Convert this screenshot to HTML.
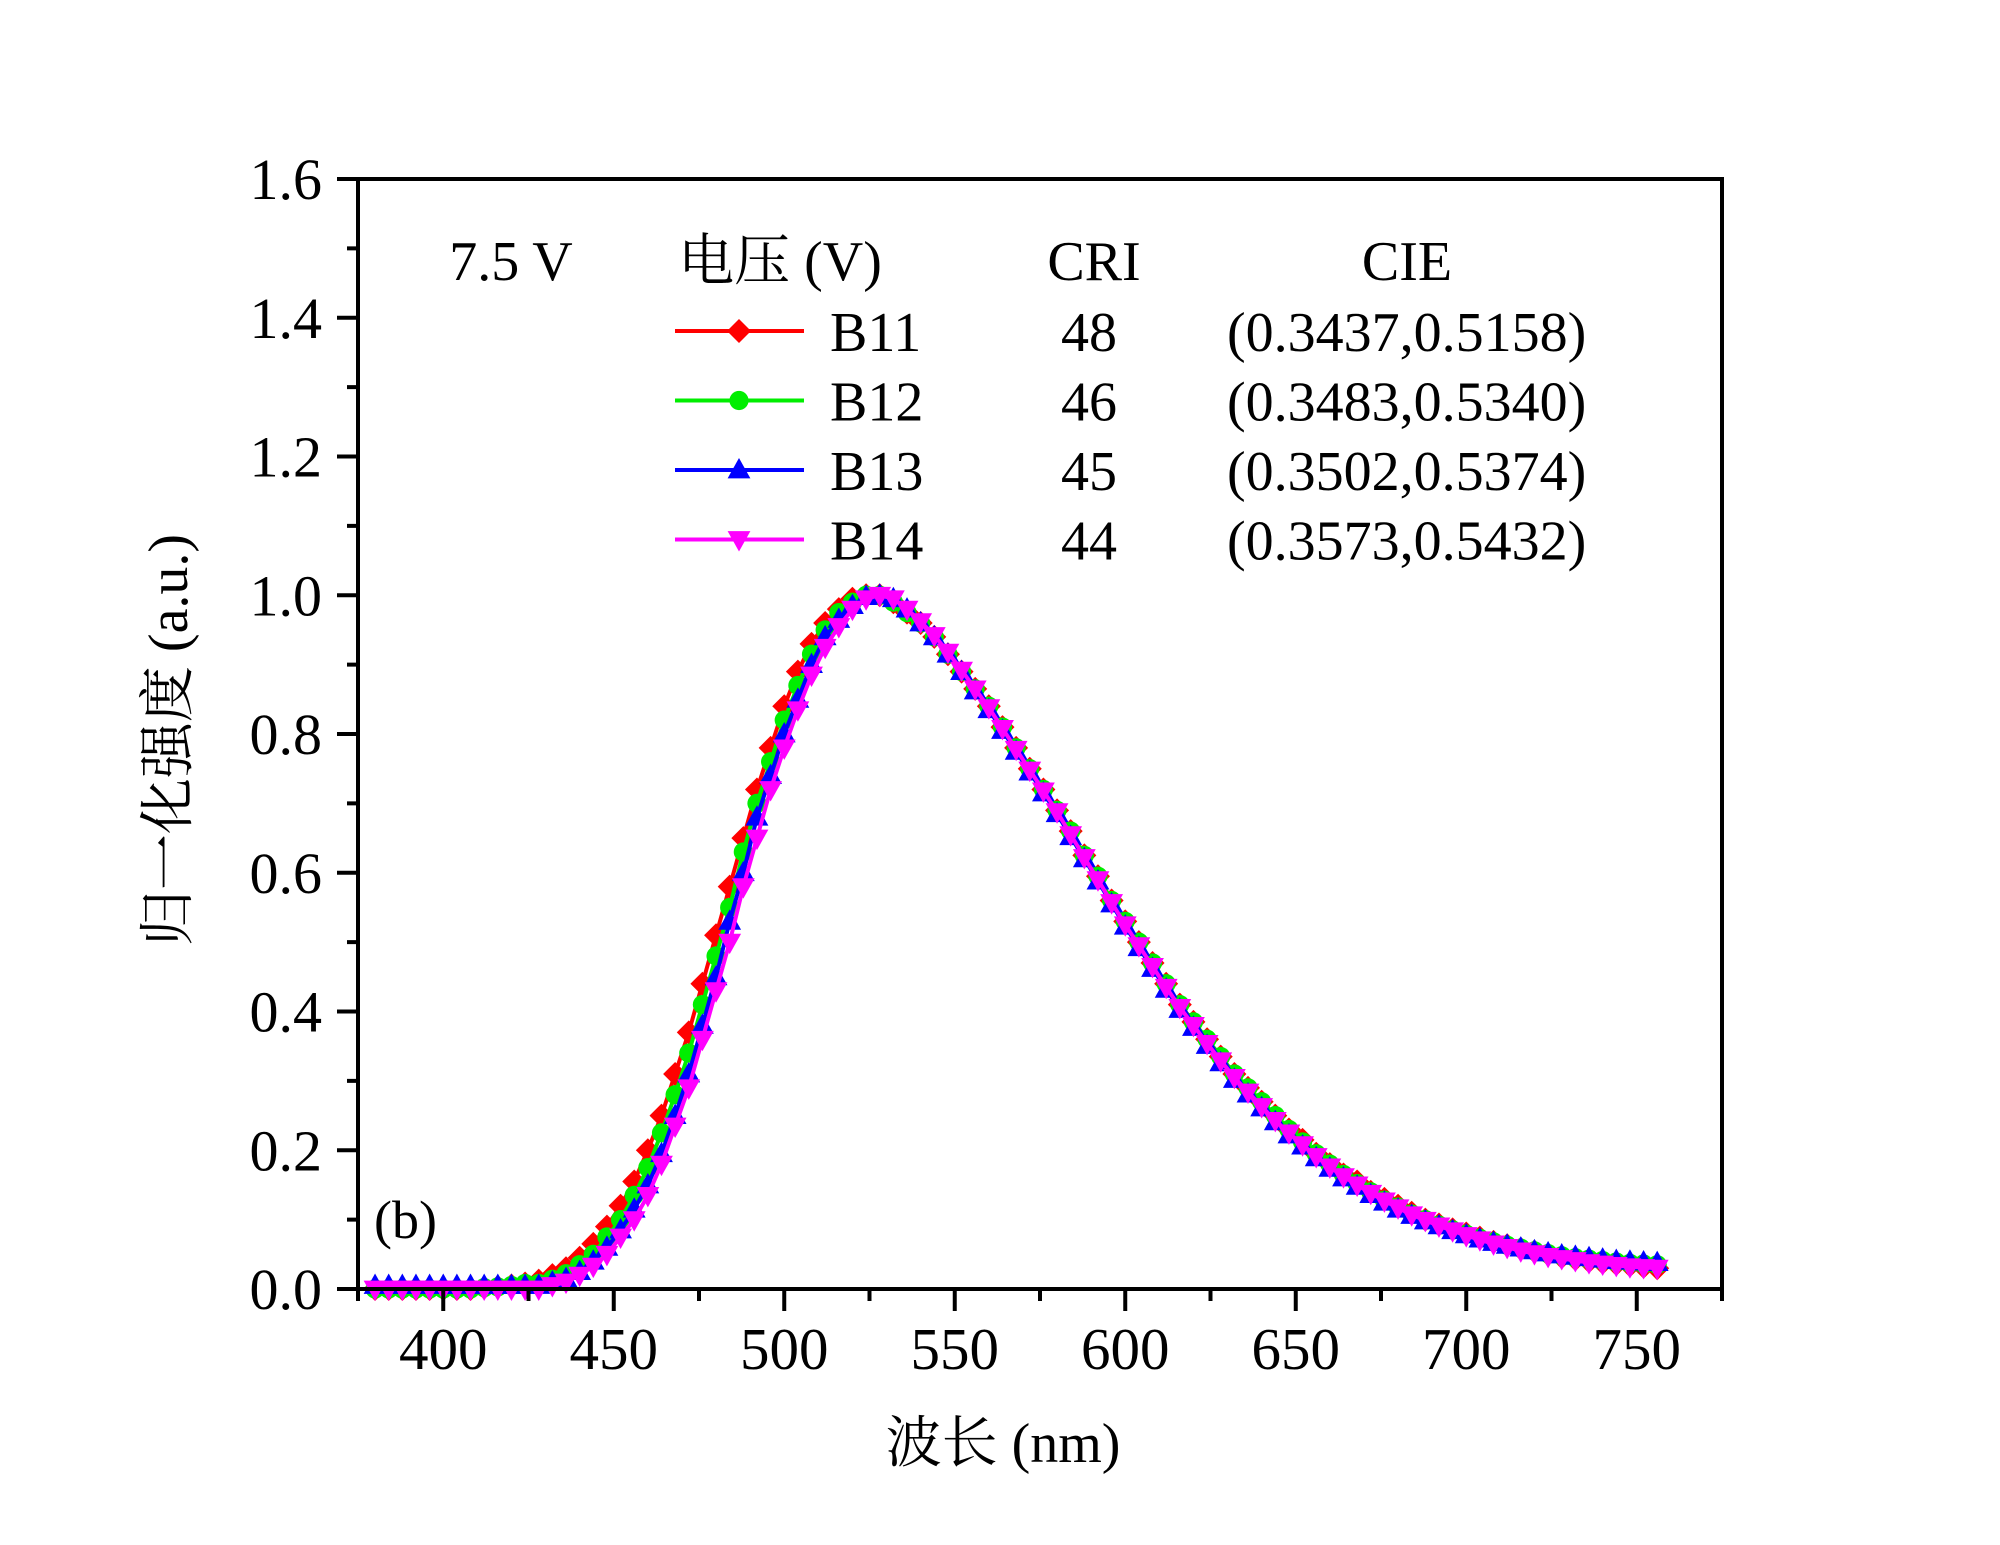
<!DOCTYPE html>
<html><head><meta charset="utf-8"><style>
html,body{margin:0;padding:0;background:#fff;}
svg{display:block;}
text{font-family:"Liberation Serif","Noto Serif CJK SC",serif;fill:#000;}
</style></head><body>
<svg id="chart" width="2000" height="1545" viewBox="0 0 2000 1545" xmlns="http://www.w3.org/2000/svg"></svg>
<script>
const xTicks = [400,450,500,550,600,650,700,750];
const yTicks = [0.0,0.2,0.4,0.6,0.8,1.0,1.2,1.4,1.6];
const yTickLabels = ["0.0","0.2","0.4","0.6","0.8","1.0","1.2","1.4","1.6"];
const wlStart = 380, wlStep = 4;
const lowFlat = [0,0,0,0,0,0,0,0,0.002,0.003,0.005,0.008];
const lowFlat13 = [0.005,0.005,0.005,0.005,0.005,0.005,0.005,0.005,0.005,0.005,0.005,0.005];
const lowFlat14 = [0,0,0,0,0,0,0,0,0,0,0,0];
const rise11 = [0.012,0.02,0.03,0.045,0.065,0.09,0.12,0.155,0.20,0.25,0.31,0.37,0.44,0.51,0.58,0.65,0.72,0.78,0.84,0.89,0.93,0.96,0.98,0.995,1.0,1.0];
const rise12 = [0.008,0.014,0.022,0.035,0.05,0.075,0.10,0.135,0.175,0.225,0.28,0.34,0.41,0.48,0.55,0.63,0.70,0.76,0.82,0.87,0.915,0.95,0.975,0.99,1.0,1.0];
const rise13 = [0.005,0.01,0.015,0.025,0.04,0.06,0.085,0.115,0.15,0.195,0.25,0.31,0.38,0.45,0.53,0.60,0.68,0.74,0.80,0.85,0.90,0.94,0.965,0.985,0.998,1.0];
const rise14 = [0,0.005,0.01,0.02,0.033,0.05,0.075,0.10,0.135,0.18,0.235,0.29,0.36,0.43,0.50,0.58,0.65,0.72,0.78,0.835,0.885,0.925,0.955,0.98,0.995,1.0];
const tail11 = [0.99,0.975,0.96,0.94,0.915,0.89,0.865,0.84,0.81,0.78,0.75,0.72,0.69,0.66,0.625,0.595,0.56,0.53,0.50,0.47,0.44,0.41,0.385,0.36,0.335,0.31,0.29,0.27,0.25,0.23,0.215,0.195,0.18,0.165,0.155,0.14,0.13,0.12,0.11,0.10,0.093,0.086,0.08,0.074,0.068,0.063,0.058,0.054,0.05,0.046,0.043,0.04,0.038,0.036,0.034,0.032,0.03];
const tail12 = [0.99,0.975,0.96,0.94,0.915,0.89,0.865,0.84,0.81,0.78,0.75,0.72,0.69,0.66,0.625,0.595,0.56,0.53,0.50,0.47,0.44,0.41,0.385,0.36,0.335,0.31,0.29,0.27,0.25,0.23,0.212,0.195,0.18,0.165,0.152,0.14,0.128,0.118,0.108,0.10,0.092,0.085,0.079,0.073,0.068,0.063,0.059,0.055,0.051,0.048,0.045,0.043,0.041,0.039,0.037,0.036,0.035];
const tail13 = [0.995,0.98,0.96,0.94,0.915,0.89,0.862,0.835,0.805,0.775,0.745,0.715,0.685,0.652,0.62,0.588,0.555,0.523,0.492,0.462,0.432,0.403,0.377,0.351,0.326,0.302,0.281,0.261,0.241,0.222,0.206,0.189,0.174,0.16,0.148,0.136,0.125,0.115,0.106,0.098,0.091,0.084,0.078,0.072,0.067,0.063,0.059,0.055,0.052,0.049,0.047,0.045,0.043,0.041,0.04,0.039,0.038];
const tail14 = [0.995,0.98,0.962,0.942,0.918,0.892,0.865,0.838,0.808,0.778,0.748,0.718,0.688,0.655,0.622,0.59,0.557,0.525,0.495,0.465,0.435,0.406,0.38,0.354,0.329,0.305,0.284,0.263,0.243,0.225,0.208,0.191,0.176,0.162,0.15,0.138,0.127,0.117,0.107,0.099,0.091,0.084,0.077,0.071,0.065,0.06,0.055,0.051,0.047,0.044,0.041,0.038,0.036,0.034,0.032,0.031,0.03];
const seriesNames = ["B11","B12","B13","B14"];
const seriesColors = ["#ff0000","#00ee00","#0000ff","#ff00ff"];
const seriesMarkers = ["diamond","circle","up","down"];
const criValues = ["48","46","45","44"];
const cieValues = ["(0.3437,0.5158)","(0.3483,0.5340)","(0.3502,0.5374)","(0.3573,0.5432)"];
const seriesData = [
  lowFlat.concat(rise11, tail11),
  lowFlat.concat(rise12, tail12),
  lowFlat13.concat(rise13, tail13),
  lowFlat14.concat(rise14, tail14)
];

const NS = "http://www.w3.org/2000/svg";
const svg = document.getElementById('chart');
const L = 358, R = 1722, T = 179, B = 1289;
const xMin = 375, xMax = 775, yMin = 0, yMax = 1.6;
const xs = v => L + (v - xMin) / (xMax - xMin) * (R - L);
const ys = v => B - (v - yMin) / (yMax - yMin) * (B - T);
function el(tag, attrs, parent) {
  const e = document.createElementNS(NS, tag);
  for (const k in attrs) e.setAttribute(k, attrs[k]);
  (parent || svg).appendChild(e);
  return e;
}
function marker(type, x, y, color, parent, s) {
  let m;
  if (type === 'diamond') m = el('polygon', {points: `${x},${y-s} ${x+s},${y} ${x},${y+s} ${x-s},${y}`, fill: color}, parent);
  else if (type === 'circle') m = el('circle', {cx: x, cy: y, r: s*0.8, fill: color}, parent);
  else if (type === 'up') m = el('polygon', {points: `${x},${y-s} ${x+s*0.95},${y+s*0.7} ${x-s*0.95},${y+s*0.7}`, fill: color}, parent);
  else m = el('polygon', {points: `${x},${y+s} ${x+s*0.95},${y-s*0.7} ${x-s*0.95},${y-s*0.7}`, fill: color}, parent);
  return m;
}

seriesData.forEach((vals, si) => {
  const g = el('g', {});
  
  
  const pts = vals.map((v, i) => `${xs(wlStart + i*wlStep)},${ys(v)}`).join(' ');
  const line = el('polyline', {points: pts, fill: 'none', stroke: seriesColors[si], 'stroke-width': 4}, g);
  
  
  vals.forEach((v, i) => {
    const m = marker(seriesMarkers[si], xs(wlStart + i*wlStep), ys(v), seriesColors[si], g, 12);
    
    
  });
});

const frame = el('rect', {x: L, y: T, width: R-L, height: B-T, fill: 'none', stroke: '#000', 'stroke-width': 4});



for (let v = 375; v <= 775; v += 25) {
  const major = (v % 50 === 0);
  const t = el('line', {x1: xs(v), x2: xs(v), y1: B, y2: B + (major ? 22 : 12), stroke: '#000', 'stroke-width': 4});
  
  
}
xTicks.forEach(v => {
  const t = el('text', {x: xs(v), y: 1369, 'font-size': 59, 'text-anchor': 'middle'});
  t.textContent = String(v);
  
  
});
for (let k = 0; k <= 16; k++) {
  const v = k * 0.1;
  const major = (k % 2 === 0);
  const t = el('line', {x1: L - (major ? 21 : 11), x2: L, y1: ys(v), y2: ys(v), stroke: '#000', 'stroke-width': 4});
  
  
}
yTicks.forEach((v, i) => {
  const t = el('text', {x: 322, y: ys(v) + 20, 'font-size': 58, 'text-anchor': 'end'});
  t.textContent = yTickLabels[i];
  
  
});

const xt = el('text', {x: 1003, y: 1462, 'font-size': 56, 'text-anchor': 'middle'});
xt.textContent = '波长 (nm)';


const yt = el('text', {x: 0, y: 0, 'font-size': 56, 'text-anchor': 'middle', transform: 'translate(187,740) rotate(-90)'});
yt.textContent = '归一化强度 (a.u.)';



const pl = el('text', {x: 374, y: 1238, 'font-size': 54});
pl.textContent = '(b)';



const lg = el('g', {});


const headers = [['7.5 V', 511], ['电压 (V)', 780], ['CRI', 1094], ['CIE', 1407]];
headers.forEach(h => {
  const t = el('text', {x: h[1], y: 280, 'font-size': 56, 'text-anchor': 'middle'}, lg);
  t.textContent = h[0];
  
  
});
seriesNames.forEach((n, i) => {
  const yy = 331 + i * 69.5;
  const e = el('g', {}, lg);
  
  
  el('line', {x1: 675, x2: 804, y1: yy, y2: yy, stroke: seriesColors[i], 'stroke-width': 4}, e);
  marker(seriesMarkers[i], 739, yy, seriesColors[i], e, 12);
  const t1 = el('text', {x: 830, y: yy + 20, 'font-size': 56}, e);
  t1.textContent = n;
  const t2 = el('text', {x: 1089, y: yy + 20, 'font-size': 56, 'text-anchor': 'middle'}, e);
  t2.textContent = criValues[i];
  const t3 = el('text', {x: 1227, y: yy + 20, 'font-size': 56}, e);
  t3.textContent = cieValues[i];
});
</script>
</body></html>
